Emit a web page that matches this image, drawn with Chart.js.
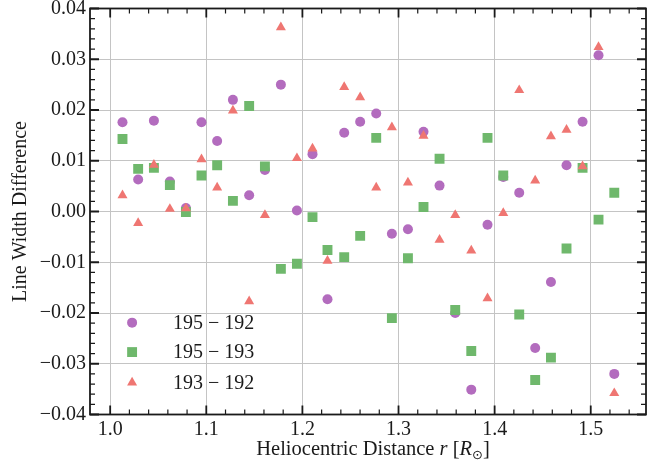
<!DOCTYPE html>
<html>
<head>
<meta charset="utf-8">
<script src="https://cdn.jsdelivr.net/npm/chart.js@4.4.1/dist/chart.umd.min.js"></script>
<style>
  html, body { margin: 0; padding: 0; background: #ffffff; }
  #wrap { width: 665px; height: 461px; }
</style>
</head>
<body>
<div id="wrap"><canvas id="c" width="665" height="461"></canvas></div>
<script>
// Heliocentric distance of each sample, in solar radii
const radii = [
  1.0128, 1.0291, 1.0455, 1.0621, 1.0788, 1.0950, 1.1113, 1.1277,
  1.1446, 1.1610, 1.1776, 1.1943, 1.2105, 1.2261, 1.2435, 1.2601,
  1.2768, 1.2931, 1.3098, 1.3260, 1.3427, 1.3590, 1.3757, 1.3926,
  1.4090, 1.4256, 1.4422, 1.4586, 1.4748, 1.4915, 1.5081, 1.5245
];

// Line width differences between channel pairs
const diff195_192 = [
  0.0176, 0.0063, 0.0179, 0.0059, 0.0007, 0.0176, 0.0139, 0.0220,
  0.0032, 0.0082, 0.0250, 0.0002, 0.0113, -0.0173, 0.0155, 0.0177,
  0.0193, -0.0044, -0.0035, 0.0157, 0.0051, -0.0200, -0.0351, -0.0026,
  0.0068, 0.0037, -0.0269, -0.0139, 0.0091, 0.0177, 0.0308, -0.0320
];
const diff195_193 = [
  0.0143, 0.0084, 0.0086, 0.0052, -0.0001, 0.0071, 0.0091, 0.0021,
  0.0208, 0.0089, -0.0113, -0.0103, -0.0011, -0.0076, -0.0090, -0.0048,
  0.0145, -0.0210, -0.0092, 0.0009, 0.0104, -0.0194, -0.0275, 0.0145,
  0.0071, -0.0203, -0.0332, -0.0288, -0.0073, 0.0086, -0.0016, 0.0037
];
const diff193_192 = [
  0.0032, -0.0023, 0.0092, 0.0005, 0.0006, 0.0103, 0.0047, 0.0199,
  -0.0177, -0.0007, 0.0363, 0.0105, 0.0124, -0.0097, 0.0245, 0.0225,
  0.0047, 0.0166, 0.0057, 0.0149, -0.0056, -0.0007, -0.0077, -0.0171,
  -0.0003, 0.0239, 0.0061, 0.0148, 0.0161, 0.0089, 0.0324, -0.0358
];

const seriesLabels = ['195 \u2212 192', '195 \u2212 193', '193 \u2212 192'];
const xTickValues = [1.0, 1.1, 1.2, 1.3, 1.4, 1.5];
const yTickValues = [-0.04, -0.03, -0.02, -0.01, 0.00, 0.01, 0.02, 0.03, 0.04];

const SERIF = '"Liberation Serif", "DejaVu Serif", serif';
const INK = '#1a1a1a';

const toPoints = arr => radii.map((r, i) => ({ x: r, y: arr[i] }));

const series = [
  { label: seriesLabels[0], data: toPoints(diff195_192), color: '#b36cbe', style: 'circle',   radius: 5,   order: 3 },
  { label: seriesLabels[1], data: toPoints(diff195_193), color: '#6fb86c', style: 'rect',     radius: 7,   order: 2 },
  { label: seriesLabels[2], data: toPoints(diff193_192), color: '#ef7672', style: 'triangle', radius: 5.8, order: 1 }
];

const datasets = series.map(s => ({
  label: s.label,
  data: s.data,
  order: s.order,
  pointStyle: s.style,
  pointRadius: s.radius,
  pointHoverRadius: s.radius,
  pointBackgroundColor: s.color,
  pointBorderColor: s.color,
  pointBorderWidth: 0,
  showLine: false
}));

const fmtSigned = (v, d) => {
  const s = Math.abs(v).toFixed(d);
  return (v < -1e-9 ? '\u2212' : '') + s;
};

// Spines, inward major/minor ticks, axis titles and the in-plot key
const decorations = {
  id: 'decorations',
  afterDraw(chart) {
    const { ctx, chartArea: a, scales } = chart;
    const xs = scales.x, ys = scales.y;
    ctx.save();

    // inward tick marks on all four sides
    ctx.strokeStyle = INK;
    const vTick = (px, len, w) => {
      ctx.lineWidth = w;
      ctx.beginPath();
      ctx.moveTo(px, a.bottom); ctx.lineTo(px, a.bottom - len);
      ctx.moveTo(px, a.top); ctx.lineTo(px, a.top + len);
      ctx.stroke();
    };
    const hTick = (py, len, w) => {
      ctx.lineWidth = w;
      ctx.beginPath();
      ctx.moveTo(a.left, py); ctx.lineTo(a.left + len, py);
      ctx.moveTo(a.right, py); ctx.lineTo(a.right - len, py);
      ctx.stroke();
    };
    for (let k = 49; k <= 77; k++) {
      if (k % 5 === 0) continue;
      const px = xs.getPixelForValue(k * 0.02);
      if (px > a.left + 1 && px < a.right - 1) vTick(px, 5, 1.2);
    }
    xTickValues.forEach(v => vTick(xs.getPixelForValue(v), 9, 1.8));
    for (let k = -20; k <= 20; k++) {
      if (k % 5 === 0) continue;
      hTick(ys.getPixelForValue(k * 0.002), 5, 1.2);
    }
    yTickValues.forEach(v => hTick(ys.getPixelForValue(v), 9, 1.8));

    // frame
    ctx.lineWidth = 1.8;
    ctx.strokeRect(a.left, a.top, a.right - a.left, a.bottom - a.top);

    // y axis title
    ctx.fillStyle = INK;
    ctx.font = '20px ' + SERIF;
    ctx.textAlign = 'center';
    ctx.textBaseline = 'middle';
    ctx.save();
    ctx.translate(21, (a.top + a.bottom) / 2);
    ctx.rotate(-Math.PI / 2);
    ctx.fillText('Line Width Difference', 0, 0);
    ctx.restore();

    // x axis title with italic symbols and a subscript
    const parts = [
      { t: 'Heliocentric Distance ', f: '20.5px ' + SERIF, dy: 0 },
      { t: 'r', f: 'italic 20.5px ' + SERIF, dy: 0 },
      { t: ' [', f: '20.5px ' + SERIF, dy: 0 },
      { t: 'R', f: 'italic 20.5px ' + SERIF, dy: 0 },
      { t: '\u2299', f: '13px "DejaVu Sans", sans-serif', dy: 4 },
      { t: ']', f: '20.5px ' + SERIF, dy: 0 }
    ];
    ctx.textAlign = 'left';
    ctx.textBaseline = 'alphabetic';
    let total = 0;
    parts.forEach(p => { ctx.font = p.f; p.w = ctx.measureText(p.t).width; total += p.w; });
    let cx = 373 - total / 2;
    const base = 455;
    parts.forEach(p => { ctx.font = p.f; ctx.fillText(p.t, cx, base + p.dy); cx += p.w; });

    // key
    const keyX = xs.getPixelForValue(1.0228);
    const rowY = [-0.0219, -0.0277, -0.0337].map(v => ys.getPixelForValue(v));
    series.forEach((s, i) => {
      ctx.fillStyle = s.color;
      ctx.strokeStyle = s.color;
      Chart.helpers.drawPoint(ctx, { pointStyle: s.style, radius: s.radius, rotation: 0, borderWidth: 0 }, keyX, rowY[i]);
      ctx.fillStyle = INK;
      ctx.font = '20px ' + SERIF;
      ctx.textBaseline = 'middle';
      ctx.fillText(s.label, 173, rowY[i] + 1);
    });

    ctx.restore();
  }
};

new Chart(document.getElementById('c'), {
  type: 'scatter',
  data: { datasets },
  options: {
    responsive: false,
    animation: false,
    devicePixelRatio: 1,
    layout: { padding: { left: 0, right: 19, top: 8.5, bottom: 0 } },
    plugins: { legend: { display: false }, tooltip: { enabled: false } },
    scales: {
      x: {
        type: 'linear',
        min: 0.979,
        max: 1.5575,
        afterBuildTicks: sc => { sc.ticks = xTickValues.map(v => ({ value: v })); },
        afterFit: sc => { sc.height = 46.5; sc.paddingLeft = 0; sc.paddingRight = 0; },
        grid: { color: '#c4c4c4', lineWidth: 1, drawTicks: false },
        border: { display: false },
        ticks: {
          padding: 3,
          color: INK,
          font: { family: SERIF, size: 20 },
          maxRotation: 0,
          callback: v => Number(v).toFixed(1)
        }
      },
      y: {
        type: 'linear',
        min: -0.04,
        max: 0.04,
        afterBuildTicks: sc => { sc.ticks = yTickValues.map(v => ({ value: v })); },
        afterFit: sc => { sc.width = 90; sc.paddingTop = 0; sc.paddingBottom = 0; },
        grid: { color: '#c4c4c4', lineWidth: 1, drawTicks: false },
        border: { display: false },
        ticks: {
          padding: 4,
          color: INK,
          font: { family: SERIF, size: 20 },
          callback: v => fmtSigned(v, 2)
        }
      }
    }
  },
  plugins: [decorations]
});
</script>
</body>
</html>
